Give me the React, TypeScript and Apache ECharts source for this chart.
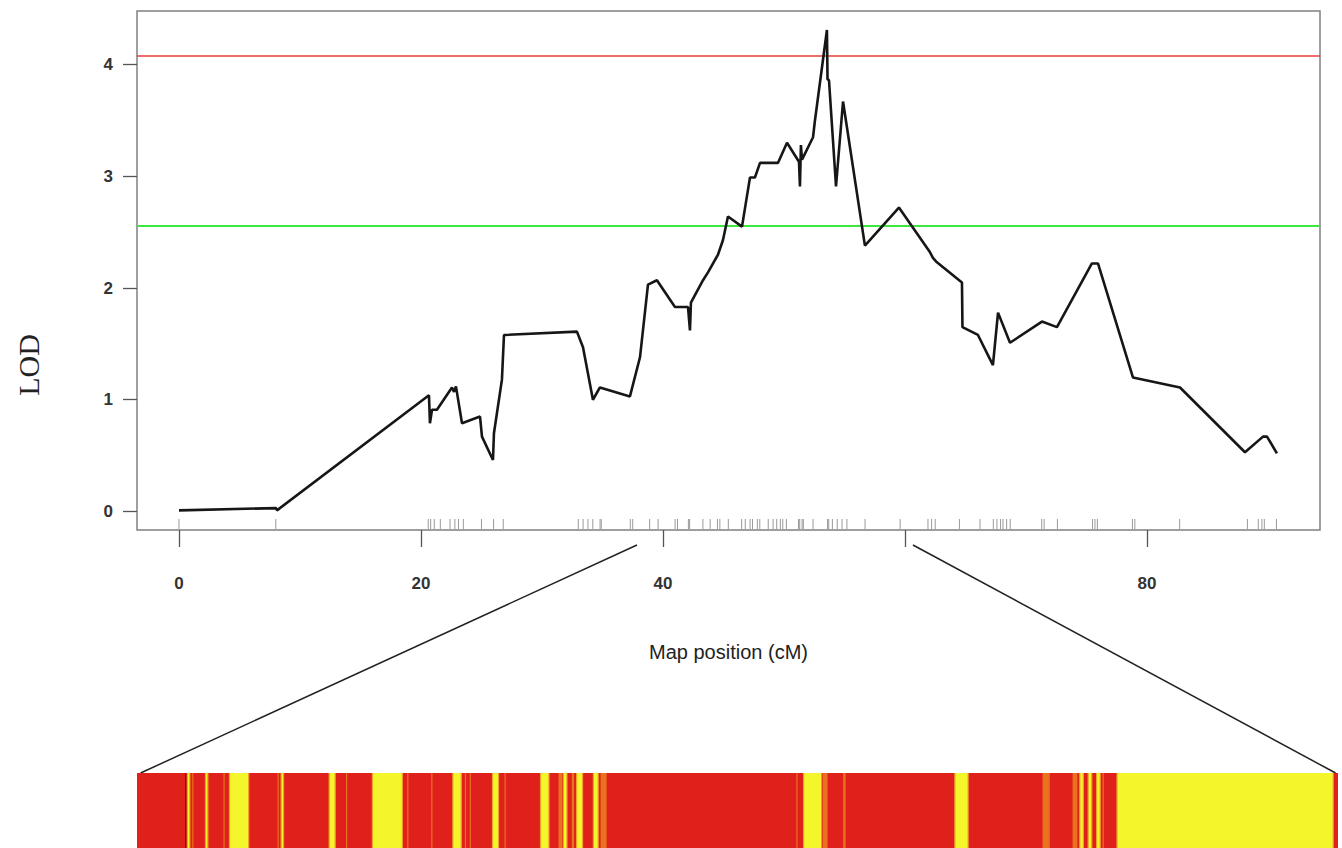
import React, { useEffect, useRef } from "react";
import * as echarts from "echarts";

// LOD profile along the linkage group (map position in cM, LOD score)
const mapPositions = [
  0, 8.02, 8.1, 20.66, 20.74, 20.91, 21.32, 22.56, 22.73, 22.89, 23.39, 24.88,
  25.04, 25.95, 26.03, 26.69, 26.86, 32.89, 33.39, 34.21, 34.79, 37.27, 38.1,
  38.76, 39.5, 40.99, 42.07, 42.23, 42.31, 43.31, 43.72, 44.55, 44.96, 45.37,
  46.53, 47.19, 47.6, 48.02, 49.5, 50.25, 51.24, 51.32, 51.4, 51.49, 52.4,
  52.56, 53.55, 53.6, 53.72, 54.3, 54.88, 56.69, 59.5, 62.07, 62.31, 62.64,
  64.71, 64.75, 66.03, 67.27, 67.69, 68.68, 71.32, 72.56, 75.45, 75.95, 78.84,
  82.73, 88.1, 89.59, 89.92, 90.74,
];
const lodScores = [
  0.01, 0.03, 0.01, 1.04, 0.79, 0.91, 0.91, 1.11, 1.07, 1.12, 0.79, 0.85,
  0.67, 0.46, 0.7, 1.18, 1.58, 1.61, 1.47, 1.0, 1.11, 1.03, 1.38,
  2.03, 2.07, 1.83, 1.83, 1.62, 1.87, 2.07, 2.14, 2.3, 2.43, 2.64,
  2.55, 2.99, 2.99, 3.12, 3.12, 3.3, 3.13, 2.91, 3.28, 3.15, 3.35,
  3.5, 4.31, 3.87, 3.86, 2.91, 3.67, 2.38, 2.72, 2.32, 2.27, 2.23,
  2.05, 1.65, 1.58, 1.31, 1.78, 1.51, 1.7, 1.65, 2.22, 2.22, 1.2,
  1.11, 0.53, 0.67, 0.67, 0.52,
];

// Marker positions (cM) shown as a rug along the x axis
const markerPositions = [
  0, 8.0, 20.6, 20.8, 21.1, 21.6, 22.4, 22.8, 23.1, 23.5, 25.0, 26.0, 26.8,
  33.0, 33.4, 33.8, 34.2, 34.8, 34.9, 37.3, 37.5, 38.9, 39.6, 41.0, 41.2,
  42.1, 42.2, 43.3, 43.9, 44.5, 44.7, 45.4, 46.5, 46.8, 47.2, 47.4, 47.8,
  48.0, 48.7, 49.1, 49.4, 49.7, 49.9, 50.2, 51.2, 51.3, 51.5, 51.6, 52.4,
  53.6, 53.7, 54.0, 54.4, 54.8, 55.2, 56.7, 59.6, 61.9, 62.2, 62.5, 64.5,
  66.2, 67.3, 67.6, 67.9, 68.1, 68.4, 68.7, 71.3, 71.5, 72.6, 75.5, 75.7,
  75.9, 78.8, 79.0, 82.7, 88.3, 89.2, 89.5, 89.7, 90.7,
];

// Significance thresholds
const thresholdHigh = 4.08;
const thresholdLow = 2.556;

// Axis ticks
const xTickValues = [0, 20, 40, 60, 80];
const xLabelValues = [0, 20, 40, 80];
const yTickValues = [0, 1, 2, 3, 4];

// Interval (cM) expanded in the genotype strip below the plot
const zoomInterval = [37.85, 60.66];

// Genotype strip across the interval: [start %, end %, state]
// state: 0 = red, 1 = yellow, 2 = orange, 3 = dark
const stripSegments: [number, number, number][] = [
  [0, 100, 0],
  [4.0, 4.1, 3],
  [4.2, 4.4, 1],
  [4.6, 4.7, 2],
  [5.7, 5.9, 1],
  [7.2, 7.3, 2],
  [7.7, 9.3, 1],
  [11.7, 11.8, 2],
  [12.0, 12.2, 1],
  [16.0, 16.5, 1],
  [17.4, 17.5, 2],
  [19.6, 22.1, 1],
  [22.5, 22.6, 2],
  [24.5, 24.6, 2],
  [26.3, 27.0, 1],
  [27.3, 27.4, 2],
  [27.7, 27.8, 2],
  [29.6, 30.1, 1],
  [30.6, 30.7, 2],
  [33.6, 34.3, 1],
  [35.1, 35.4, 2],
  [35.5, 35.8, 1],
  [36.2, 36.4, 2],
  [36.6, 37.1, 1],
  [38.0, 38.4, 1],
  [38.6, 39.1, 2],
  [54.9, 55.0, 2],
  [55.5, 57.0, 1],
  [57.1, 57.5, 2],
  [58.8, 59.0, 2],
  [68.1, 69.2, 1],
  [75.4, 76.0, 2],
  [77.9, 78.3, 2],
  [78.5, 78.8, 1],
  [79.2, 79.5, 1],
  [79.9, 80.2, 1],
  [80.4, 80.5, 2],
  [81.6, 99.6, 1],
];
const stripColors = ["#e0201a", "#f5f52c", "#e8721e", "#5a1c12"];
const stripEdge = "#eea12a";

const sansFont = "'Liberation Sans', Arial, Helvetica, sans-serif";

export default function App() {
  const ref = useRef<HTMLDivElement>(null);

  useEffect(() => {
    if (!ref.current) return;
    const chart = echarts.init(ref.current, undefined, { renderer: "svg" });

    const lodData = mapPositions.map((p, i) => [p, lodScores[i]]);

    chart.setOption({
      animation: false,
      backgroundColor: "#ffffff",
      grid: [
        {
          left: 137,
          top: 11,
          width: 1183,
          height: 519,
          show: true,
          borderColor: "#808080",
          borderWidth: 1.5,
          backgroundColor: "transparent",
        },
        { left: 137, top: 773, width: 1201, height: 75, show: false },
      ],
      xAxis: [
        {
          type: "value",
          gridIndex: 0,
          min: -3.47,
          max: 94.3,
          splitLine: { show: false },
          axisLine: { show: false, onZero: false },
          axisTick: {
            show: true,
            inside: false,
            length: 17,
            customValues: xTickValues,
            lineStyle: { color: "#555", width: 1.3 },
          },
          axisLabel: {
            customValues: xLabelValues,
            margin: 45,
            fontSize: 17,
            fontWeight: "bold",
            color: "#333",
            fontFamily: sansFont,
          },
          name: "Map position (cM)",
          nameLocation: "middle",
          nameGap: 112,
          nameTextStyle: { fontSize: 20, color: "#222", fontFamily: sansFont },
        },
        { type: "value", gridIndex: 1, min: 0, max: 100, show: false },
      ],
      yAxis: [
        {
          type: "value",
          gridIndex: 0,
          min: -0.166,
          max: 4.48,
          splitLine: { show: false },
          axisLine: { show: false, onZero: false },
          axisTick: {
            show: true,
            inside: false,
            length: 14,
            customValues: yTickValues,
            lineStyle: { color: "#555", width: 1.3 },
          },
          axisLabel: {
            customValues: yTickValues,
            margin: 24,
            fontSize: 17,
            fontWeight: "bold",
            color: "#333",
            fontFamily: sansFont,
          },
        },
        { type: "value", gridIndex: 1, min: 0, max: 1, show: false },
      ],
      series: [
        {
          type: "line",
          xAxisIndex: 0,
          yAxisIndex: 0,
          data: lodData,
          showSymbol: false,
          symbol: "none",
          lineStyle: { color: "#161616", width: 2.6 },
          z: 5,
          markLine: {
            silent: true,
            symbol: "none",
            label: { show: false },
            data: [
              { yAxis: thresholdHigh, lineStyle: { color: "#ee3a3a", width: 1.6, type: "solid" } },
              { yAxis: thresholdLow, lineStyle: { color: "#3de83d", width: 1.8, type: "solid" } },
            ],
          },
        },
        {
          type: "custom",
          xAxisIndex: 0,
          yAxisIndex: 0,
          data: markerPositions.map((p) => [p, 0]),
          encode: { x: 0, y: 1 },
          silent: true,
          renderItem: (params: any, api: any) => {
            const x = api.coord([api.value(0), 0])[0];
            const cs = params.coordSys;
            const yb = cs.y + cs.height;
            return {
              type: "line",
              shape: { x1: x, y1: yb - 1, x2: x, y2: yb - 11 },
              style: { stroke: "#9a9a9a", lineWidth: 1 },
            };
          },
        },
        {
          type: "custom",
          xAxisIndex: 1,
          yAxisIndex: 1,
          data: stripSegments,
          encode: { x: [0, 1] },
          silent: true,
          renderItem: (params: any, api: any) => {
            const s = api.coord([api.value(0), 1]);
            const e = api.coord([api.value(1), 0]);
            const state = api.value(2);
            const children: any[] = [
              {
                type: "rect",
                shape: { x: s[0], y: s[1], width: e[0] - s[0], height: e[1] - s[1] },
                style: { fill: stripColors[state] },
              },
            ];
            // soft orange transitions on both sides of yellow stretches
            if (state === 1) {
              [s[0], e[0]].forEach((xe) => {
                children.push({
                  type: "line",
                  shape: { x1: xe, y1: s[1], x2: xe, y2: e[1] },
                  style: { stroke: stripEdge, lineWidth: 1.2 },
                });
              });
            }
            return { type: "group", children };
          },
        },
      ],
    });

    // Connector lines from the interval on the map axis to the strip's corners
    const yBottom = -0.166;
    const p0 = chart.convertToPixel({ gridIndex: 0 }, [zoomInterval[0], yBottom]) as number[];
    const p1 = chart.convertToPixel({ gridIndex: 0 }, [zoomInterval[1], yBottom]) as number[];
    const b0 = chart.convertToPixel({ gridIndex: 1 }, [0.3, 1]) as number[];
    const b1 = chart.convertToPixel({ gridIndex: 1 }, [99.8, 1]) as number[];
    chart.setOption({
      graphic: [
        {
          type: "line",
          shape: { x1: p0[0], y1: p0[1] + 15, x2: b0[0], y2: b0[1] },
          style: { stroke: "#222", lineWidth: 1.5 },
        },
        {
          type: "line",
          shape: { x1: p1[0], y1: p1[1] + 15, x2: b1[0], y2: b1[1] },
          style: { stroke: "#222", lineWidth: 1.5 },
        },
        {
          type: "text",
          x: 28,
          y: 365,
          rotation: Math.PI / 2,
          style: {
            text: "LOD",
            fontSize: 30,
            fontFamily: "'Liberation Serif', 'Times New Roman', serif",
            fill: "#222",
            align: "center",
            verticalAlign: "middle",
          },
        },
      ],
    });

    return () => chart.dispose();
  }, []);

  return (
    <div
      ref={ref}
      style={{ position: "fixed", left: 0, top: 0, width: 1342, height: 848, background: "#fff" }}
    />
  );
}
